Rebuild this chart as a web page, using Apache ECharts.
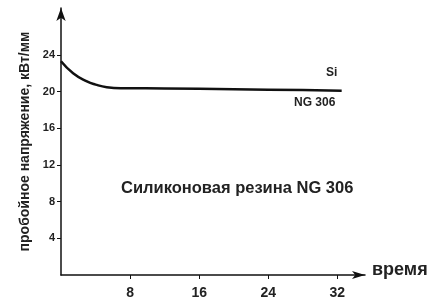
<!DOCTYPE html>
<html>
<head>
<meta charset="utf-8">
<script src="https://cdn.jsdelivr.net/npm/echarts@6/dist/echarts.min.js"></script>
<style>
  html, body { margin: 0; padding: 0; background: #fff; }
  #chart { width: 431px; height: 301px; }
</style>
</head>
<body>
<div id="chart"></div>
<script>
// время и пробойное напряжение (читаем с картинки)
const timeValues = [0, 1.4, 3, 4, 5.3, 7.2, 12, 20, 28, 32.5];
const voltageValues = [23.3, 22.0, 21.1, 20.75, 20.47, 20.36, 20.33, 20.25, 20.15, 20.08];
const yTickValues = [4, 8, 12, 16, 20, 24];
const xTickValues = [8, 16, 24, 32];

const font = 'Liberation Sans, Arial, sans-serif';
const chart = echarts.init(document.getElementById('chart'), null, { renderer: 'canvas' });

const option = {
    animation: false,
    grid: { left: 61, right: 66, top: 8, bottom: 26 },
    xAxis: {
        type: 'value',
        min: 0,
        max: 35.2,
        splitLine: { show: false },
        axisLine: {
            lineStyle: { color: '#111', width: 1.5 },
            symbol: ['none', 'arrow'],
            symbolSize: [6, 13],
        },
        axisTick: { customValues: xTickValues, length: 4, lineStyle: { color: '#111' } },
        axisLabel: {
            customValues: xTickValues,
            margin: 11,
            color: '#222',
            fontWeight: 'bold',
            fontSize: 14,
            fontFamily: font,
        },
    },
    yAxis: {
        type: 'value',
        min: 0,
        max: 29.1,
        splitLine: { show: false },
        name: 'пробойное напряжение, кВт/мм',
        nameLocation: 'middle',
        nameGap: 28,
        nameRotate: 90,
        nameTextStyle: { color: '#222', fontWeight: 'bold', fontSize: 14, fontFamily: font },
        axisLine: {
            lineStyle: { color: '#111', width: 1.5 },
            symbol: ['none', 'arrow'],
            symbolSize: [7, 13],
        },
        axisTick: { customValues: yTickValues, length: 4, lineStyle: { color: '#111' } },
        axisLabel: {
            customValues: yTickValues,
            margin: 6,
            color: '#222',
            fontWeight: 'bold',
            fontSize: 11,
            fontFamily: font,
        },
    },
    series: [
        {
            type: 'line',
            smooth: true,
            symbol: 'none',
            data: timeValues.map((t, i) => [t, voltageValues[i]]),
            lineStyle: { color: '#111', width: 2.5 },
        },
    ],
    graphic: [
        { type: 'text', left: 372, top: 261, style: { text: 'время', fill: '#222', font: 'bold 18px ' + font } },
        { type: 'text', left: 326, top: 67, style: { text: 'Si', fill: '#222', font: 'bold 12px ' + font } },
        { type: 'text', left: 294, top: 97, style: { text: 'NG 306', fill: '#222', font: 'bold 12px ' + font } },
        { type: 'text', left: 121, top: 180, style: { text: 'Силиконовая резина NG 306', fill: '#222', font: 'bold 16.5px ' + font } },
    ],
};
chart.setOption(option);
</script>
</body>
</html>
